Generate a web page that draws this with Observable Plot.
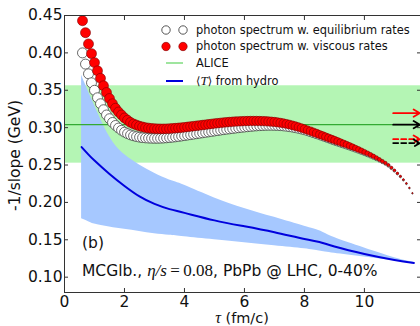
<!DOCTYPE html>
<html><head><meta charset="utf-8">
<script src="https://cdn.jsdelivr.net/npm/d3@7"></script>
<script src="https://cdn.jsdelivr.net/npm/@observablehq/plot@0.6"></script>
<style>
html,body{margin:0;padding:0;background:#fff;}
#chart{position:relative;width:420px;height:326px;overflow:hidden;}
</style></head><body><div id="chart"></div>
<script>
const tau = [
0.6,0.7,0.8,0.9,1.0,1.1,1.2,1.3,1.4,1.5,
1.6,1.7,1.8,1.9,2.0,2.1,2.2,2.3,2.4,2.5,
2.6,2.7,2.8,2.9,3.0,3.1,3.2,3.3,3.4,3.5,
3.6,3.7,3.8,3.9,4.0,4.1,4.2,4.3,4.4,4.5,
4.6,4.7,4.8,4.9,5.0,5.1,5.2,5.3,5.4,5.5,
5.6,5.7,5.8,5.9,6.0,6.1,6.2,6.3,6.4,6.5,
6.6,6.7,6.8,6.9,7.0,7.1,7.2,7.3,7.4,7.5,
7.6,7.7,7.8,7.9,8.0,8.1,8.2,8.3,8.4,8.5,
8.6,8.7,8.8,8.9,9.0,9.1,9.2,9.3,9.4,9.5,
9.6,9.7,9.8,9.9,10.0,10.1,10.2,10.3,10.4,10.5,
10.6,10.7,10.8,10.9,11.0,11.1,11.2,11.3,11.4,11.5,11.6];
const equilibriumRates = [
0.400,0.385,0.372,0.360,0.350,0.340,0.332,0.324,0.317,0.312,
0.307,0.303,0.2995,0.2965,0.294,0.292,0.2903,0.289,0.288,0.2872,
0.2866,0.2862,0.2859,0.2857,0.2856,0.2856,0.2857,0.2859,0.2862,0.2866,
0.287,0.2875,0.288,0.2886,0.2892,0.2898,0.2904,0.291,0.2916,0.2922,
0.2928,0.2934,0.294,0.2946,0.2952,0.2958,0.2964,0.297,0.2975,0.298,
0.2985,0.299,0.2995,0.300,0.3004,0.3008,0.3012,0.3016,0.3019,0.3022,
0.3024,0.3026,0.3027,0.3027,0.3026,0.3024,0.3021,0.3017,0.3012,0.3006,
0.2999,0.2991,0.2982,0.2972,0.2961,0.2949,0.2936,0.2922,0.2908,0.2893,
0.2878,0.2863,0.2848,0.2833,0.2818,0.2803,0.2788,0.2773,0.2758,0.2743,
0.2727,0.2711,0.2695,0.2678,0.2661,0.2643,0.2625,0.2606,0.2586,0.2565,
0.2543,0.2520,0.2492,0.2458,0.2423,0.2384,0.2344,0.2299,0.2249,0.2190,0.2120];
const viscousRates = [
0.443,0.427,0.412,0.399,0.387,0.376,0.366,0.356,0.347,0.339,
0.332,0.326,0.321,0.317,0.313,0.310,0.307,0.305,0.3035,0.302,
0.301,0.300,0.2995,0.299,0.2987,0.2985,0.2984,0.2984,0.2985,0.2987,
0.299,0.2993,0.2997,0.300,0.3005,0.301,0.3015,0.302,0.3025,0.303,
0.3035,0.304,0.3045,0.305,0.3055,0.306,0.3064,0.3068,0.3072,0.3076,
0.3079,0.3082,0.3084,0.3086,0.3088,0.3089,0.309,0.309,0.309,0.3089,
0.3088,0.3086,0.3083,0.308,0.3076,0.3071,0.3065,0.3058,0.305,0.3041,
0.3031,0.302,0.3008,0.2995,0.2982,0.2968,0.2954,0.2939,0.2924,0.2909,
0.2894,0.2879,0.2864,0.2849,0.2834,0.2819,0.2804,0.2789,0.2774,0.2758,
0.2742,0.2726,0.2709,0.2692,0.2674,0.2656,0.2637,0.2617,0.2596,0.2574,
0.2551,0.2527,0.250,0.2465,0.243,0.239,0.235,0.2305,0.2255,0.2195,0.2125];

const hydroTau  = [0.57, 0.8, 1.0, 1.5, 2.0, 2.5, 3.0, 3.5, 4.0, 5.0, 6.0, 7.0, 8.0, 8.5, 9.0, 10.0, 11.0, 11.65];
const hydroMean = [0.274,0.264,0.256,0.238,0.222,0.208,0.198,0.191,0.186,0.176,0.168,0.160,0.151,0.147,0.141,0.131,0.123,0.119];
const hydroHigh = [0.370,0.348,0.330,0.288,0.264,0.250,0.239,0.230,0.223,0.206,0.192,0.180,0.168,0.162,0.153,0.139,0.126,0.120];
const hydroLow  = [0.178,0.174,0.171,0.167,0.164,0.161,0.158,0.156,0.154,0.150,0.146,0.142,0.138,0.135,0.132,0.127,0.122,0.119];

const aliceSlope = 0.304, aliceLow = 0.2525, aliceHigh = 0.356;
const solidArrowSlopes = [0.3194, 0.304];
const dashedArrowSlopes = [0.2846, 0.2793];
const arrowTau = [10.96, 11.85];

const xTicks = [0, 2, 4, 6, 8, 10];
const yTicks = [0.10, 0.15, 0.20, 0.25, 0.30, 0.35, 0.40, 0.45];
const xDomain = [0, 11.87];
const yDomain = [0.0795, 0.45];

const eq = tau.map((t, i) => ({tau: t, v: equilibriumRates[i]}));
const vi = tau.map((t, i) => ({tau: t, v: viscousRates[i]}));
const hydro = hydroTau.map((t, i) => ({tau: t, mean: hydroMean[i], lo: hydroLow[i], hi: hydroHigh[i]}));
const arrowsSolid = solidArrowSlopes.map((s, i) => ({s, i, a: arrowTau[0], b: arrowTau[1]}));
const arrowsDashed = dashedArrowSlopes.map((s, i) => ({s, i, a: arrowTau[0], b: arrowTau[1]}));
const arrowColor = d => d.i === 0 ? "#ff0000" : "#000000";

const FONT = "DejaVu Sans";
const fs = 15.5;
const axisColor = "#333";

const plot = Plot.plot({
  width: 420, height: 326,
  marginLeft: 64, marginRight: 0, marginTop: 15, marginBottom: 34,
  style: {fontFamily: FONT, fontSize: fs + "px", color: "#111", background: "#fff", overflow: "visible"},
  x: {domain: xDomain},
  y: {domain: yDomain},
  r: {type: "linear", domain: [0.6, 7, 9, 10, 11, 11.7], range: [5, 4.6, 3.8, 2.6, 1.3, 0.5]},
  marks: [
    Plot.rect([{lo: aliceLow, hi: aliceHigh}], {y1: "lo", y2: "hi", fill: "#b4f5b4"}),
    Plot.areaY(hydro, {x: "tau", y1: "lo", y2: "hi", fill: "#a6c8ff", curve: "natural"}),
    Plot.ruleY([aliceSlope], {stroke: "#33aa33", strokeWidth: 1.2}),
    Plot.line(hydro, {x: "tau", y: "mean", stroke: "#0000dd", strokeWidth: 2, curve: "natural"}),
    Plot.dot(eq, {x: "tau", y: "v", r: "tau", fill: "white", stroke: "#444", strokeWidth: 0.8, sort: null}),
    Plot.dot(vi, {x: "tau", y: "v", r: "tau", fill: "#ff0000", stroke: "#7a0000", strokeWidth: 0.6, sort: null}),
    Plot.arrow(arrowsSolid, {x1: "a", x2: "b", y1: "s", y2: "s", stroke: arrowColor, strokeWidth: 1.8, headLength: 6}),
    Plot.arrow(arrowsDashed, {x1: "a", x2: "b", y1: "s", y2: "s", stroke: arrowColor, strokeWidth: 1.8, headLength: 6, strokeDasharray: "5,3"}),
    Plot.ruleX([xDomain[0]], {stroke: axisColor}),
    Plot.ruleY([yDomain[0]], {stroke: axisColor}),
    Plot.ruleY([yDomain[1]], {stroke: axisColor}),
    Plot.axisX({ticks: xTicks, anchor: "bottom", tickSize: -4, tickPadding: 7, tickFormat: d => String(d), label: null, fontSize: fs, stroke: axisColor}),
    Plot.axisX({ticks: xTicks, anchor: "top", tickSize: -4, tickFormat: () => "", label: null, stroke: axisColor}),
    Plot.axisY({ticks: yTicks, anchor: "left", tickSize: -4, tickPadding: 6, tickFormat: d3.format(".2f"), label: null, fontSize: fs, stroke: axisColor}),
    Plot.axisY({ticks: yTicks, anchor: "right", tickSize: -4, tickFormat: () => "", label: null, stroke: axisColor})
  ]
});
document.getElementById("chart").appendChild(plot);

const svg = d3.select(plot);
const SERIF = "'Liberation Serif', 'DejaVu Serif', serif";
// axis labels
svg.append("text").attr("transform", "translate(15,155.5) rotate(-90)")
  .attr("text-anchor", "middle").attr("dy", "0.35em")
  .attr("font-family", FONT).attr("font-size", fs).attr("fill", "#111")
  .text("-1/slope (GeV)");
const xl = svg.append("text").attr("x", 242).attr("y", 322.5).attr("text-anchor", "middle")
  .attr("font-family", FONT).attr("font-size", 14.5).attr("fill", "#111");
xl.append("tspan").attr("font-family", SERIF).attr("font-style", "italic").attr("font-size", 16).text("τ");
xl.append("tspan").text(" (fm/c)");

// annotations
svg.append("text").attr("x", 82).attr("y", 248).attr("text-anchor", "start").attr("font-family", FONT).attr("font-size", fs).attr("fill", "#111").text("(b)");
const ann = svg.append("text").attr("x", 82).attr("y", 275.5).attr("text-anchor", "start").attr("font-family", FONT).attr("font-size", fs).attr("fill", "#111");
ann.append("tspan").text("MCGlb., ");
ann.append("tspan").attr("font-family", SERIF).attr("font-style", "italic").attr("font-size", fs + 1.5).text("η/s");
ann.append("tspan").attr("font-family", SERIF).attr("font-size", fs + 1.5).text("\u2009=\u20090.08");
ann.append("tspan").text(", PbPb @ LHC, 0-40%");

// legend
const lg = svg.append("g").attr("font-family", FONT).attr("font-size", 11.4).attr("fill", "#111").attr("text-anchor", "start");
const rows = [30, 46.5, 63, 81];
[166, 183].forEach(cx => {
  lg.append("circle").attr("cx", cx).attr("cy", rows[0]).attr("r", 4.2).attr("fill", "white").attr("stroke", "#444").attr("stroke-width", 0.9);
  lg.append("circle").attr("cx", cx).attr("cy", rows[1]).attr("r", 4.2).attr("fill", "#ff0000").attr("stroke", "#7a0000").attr("stroke-width", 0.6);
});
lg.append("line").attr("x1", 166).attr("x2", 183).attr("y1", rows[2]).attr("y2", rows[2]).attr("stroke", "#9fe59f").attr("stroke-width", 2);
lg.append("line").attr("x1", 166).attr("x2", 183).attr("y1", rows[3]).attr("y2", rows[3]).attr("stroke", "#0000dd").attr("stroke-width", 2);
const labels = ["photon spectrum w. equilibrium rates", "photon spectrum w. viscous rates", "ALICE"];
labels.forEach((t, i) => lg.append("text").attr("x", 196).attr("y", rows[i]).attr("dy", "0.35em").attr("text-anchor", "start").text(t));
const l4 = lg.append("text").attr("x", 196).attr("y", rows[3]).attr("dy", "0.35em").attr("text-anchor", "start");
l4.append("tspan").text("⟨");
l4.append("tspan").attr("font-family", SERIF).attr("font-style", "italic").attr("font-size", 13).text("T");
l4.append("tspan").text("⟩ from hydro");
</script>
</body></html>
